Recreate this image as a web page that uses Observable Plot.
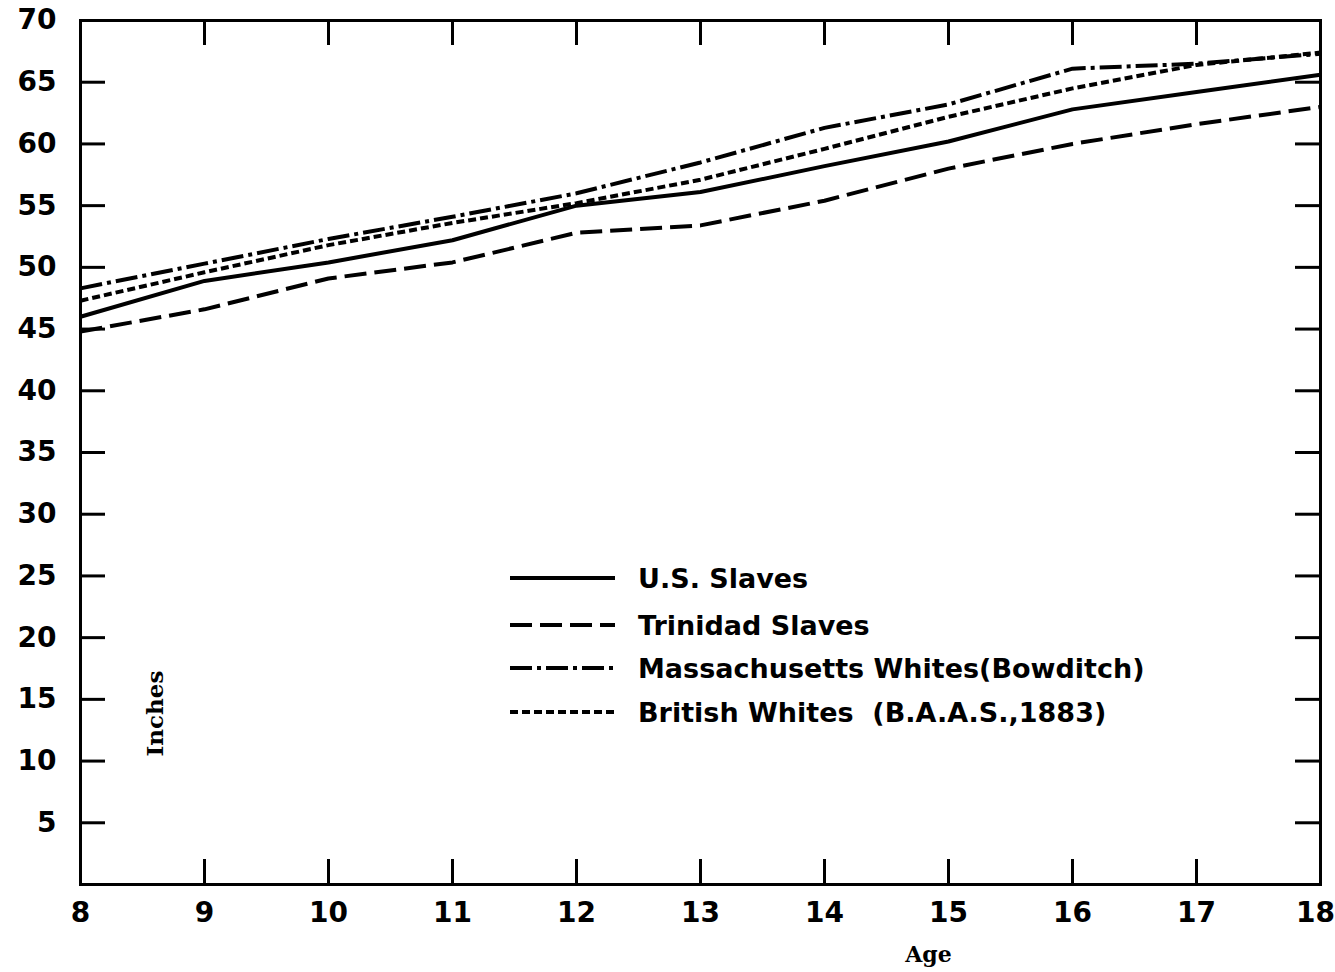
<!DOCTYPE html>
<html>
<head>
<meta charset="utf-8">
<script src="https://cdn.jsdelivr.net/npm/d3@7"></script>
<script src="https://cdn.jsdelivr.net/npm/@observablehq/plot@0.6"></script>
<style>
  html, body { margin: 0; padding: 0; background: #fff; }
  #wrap { position: relative; width: 1335px; height: 972px; }
  #legend { position: absolute; left: 0; top: 0; }
</style>
</head>
<body>
<div id="wrap"></div>
<script>
const ages = [8, 9, 10, 11, 12, 13, 14, 15, 16, 17, 18];
const usSlaves = [46.0, 48.9, 50.4, 52.2, 55.0, 56.1, 58.2, 60.2, 62.8, 64.2, 65.6];
const trinidadSlaves = [44.8, 46.6, 49.1, 50.4, 52.8, 53.4, 55.4, 58.0, 60.0, 61.6, 63.0];
const massWhites = [48.3, 50.3, 52.3, 54.1, 56.0, 58.5, 61.3, 63.2, 66.1, 66.5, 67.3];
const britishWhites = [47.3, 49.6, 51.8, 53.6, 55.2, 57.1, 59.6, 62.2, 64.5, 66.4, 67.4];
const seriesNames = ["U.S. Slaves", "Trinidad Slaves", "Massachusetts Whites(Bowditch)", "British Whites  (B.A.A.S.,1883)"];
const seriesDash = [null, "22,8", "22,5,4,5", "8,4"];
const xTickLabels = [8, 9, 10, 11, 12, 13, 14, 15, 16, 17];
const xLastLabel = [18];
const yTickLabels = [5, 10, 15, 20, 25, 30, 35, 40, 45, 50, 55, 60, 65, 70];
const xInnerTicks = [9, 10, 11, 12, 13, 14, 15, 16, 17];
const yInnerTicks = [5, 10, 15, 20, 25, 30, 35, 40, 45, 50, 55, 60, 65];

const W = 1335, H = 972;
const mL = 80, mR = 15, mT = 20, mB = 88;
const pW = W - mL - mR, pH = H - mT - mB;
const tickLen = 25;

const allSeries = [usSlaves, trinidadSlaves, massWhites, britishWhites];
const rows = [];
allSeries.forEach((vals, s) => vals.forEach((v, i) => rows.push({age: ages[i], inches: v, series: seriesNames[s]})));

const font = "'DejaVu Sans', sans-serif";
const fmt = d => String(d);

const lineMarks = seriesNames.map((name, s) =>
  Plot.line(rows.filter(r => r.series === name), {
    x: "age", y: "inches", stroke: "#000", strokeWidth: 4,
    strokeDasharray: seriesDash[s], strokeLinecap: "butt", strokeLinejoin: "round"
  })
);

const chart = Plot.plot({
  width: W, height: H,
  marginLeft: mL, marginRight: mR, marginTop: mT, marginBottom: mB,
  style: {fontFamily: font, background: "#fff", color: "#000", overflow: "visible"},
  x: {domain: [8, 18], label: null},
  y: {domain: [0, 70], label: null},
  marks: [
    Plot.axisY(yTickLabels, {anchor: "left", tickSize: 0, tickPadding: 24, fontSize: 28, fontWeight: "bold", label: null, tickFormat: fmt}),
    Plot.axisX(xTickLabels, {anchor: "bottom", tickSize: 0, tickPadding: 18, fontSize: 28, fontWeight: "bold", label: null, tickFormat: fmt}),
    Plot.axisX(xLastLabel, {anchor: "bottom", tickSize: 0, tickPadding: 18, fontSize: 28, fontWeight: "bold", label: null, tickFormat: fmt, dx: -5}),
    Plot.ruleY(yInnerTicks, {y: d => d, insetRight: pW - tickLen, strokeWidth: 3}),
    Plot.ruleY(yInnerTicks, {y: d => d, insetLeft: pW - tickLen, strokeWidth: 3}),
    Plot.ruleX(xInnerTicks, {x: d => d, insetTop: pH - tickLen, strokeWidth: 3}),
    Plot.ruleX(xInnerTicks, {x: d => d, insetBottom: pH - tickLen, strokeWidth: 3}),
    ...lineMarks,
    Plot.frame({stroke: "#000", strokeWidth: 3}),
    Plot.text(["Age"], {frameAnchor: "bottom", dx: 228, dy: 77, fontSize: 22, fontWeight: "bold", fontFamily: "'DejaVu Serif', serif"}),
    Plot.text(["Inches"], {frameAnchor: "left", textAnchor: "middle", dx: 75, dy: 261, rotate: -90, fontSize: 23, fontWeight: "bold", fontFamily: "'DejaVu Serif', serif"})
  ]
});
document.getElementById("wrap").appendChild(chart);

// Legend overlay inside the plot area
const legend = d3.select("#wrap").append("svg")
  .attr("id", "legend").attr("width", W).attr("height", H);
const legendY = [578, 625, 668, 712];
seriesNames.forEach((name, s) => {
  const g = legend.append("g").attr("transform", `translate(510,${legendY[s]})`);
  g.append("line").attr("x1", 0).attr("x2", 105).attr("y1", 0).attr("y2", 0)
    .attr("stroke", "#000").attr("stroke-width", 4)
    .attr("stroke-dasharray", seriesDash[s]);
  g.append("text").attr("x", 128).attr("y", 0).attr("dy", "0.36em")
    .attr("font-family", font).attr("font-size", 27).attr("font-weight", "bold")
    .style("white-space", "pre").attr("xml:space", "preserve")
    .text(name);
});
</script>
</body>
</html>
